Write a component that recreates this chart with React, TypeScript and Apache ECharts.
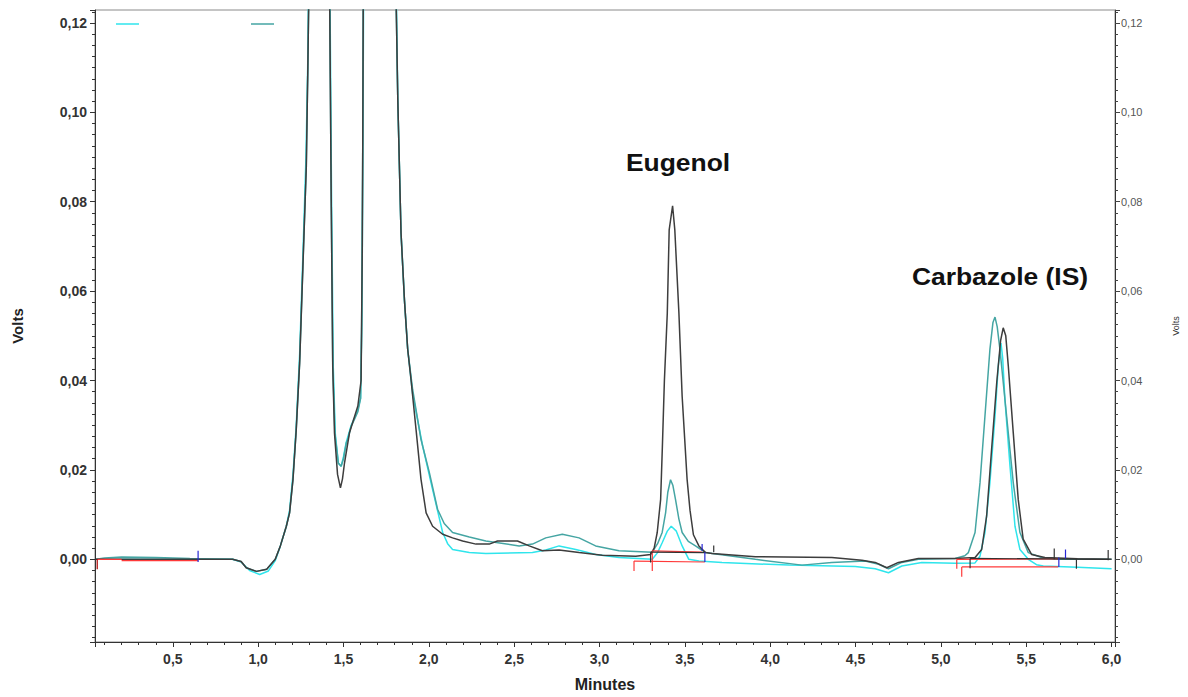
import React, { useEffect, useRef } from 'react';
import * as echarts from 'echarts';

// Axis extents
const X_MIN = 0.044;
const X_MAX = 6.02;
const Y_MIN = -0.0185;
const Y_MAX = 0.1229;

// Chromatogram traces: [minutes, volts]
const blackTrace: [number, number][] = [
  [0.05, 0.0], [0.2, 0.0], [0.5, 0.0], [0.85, 0.0], [0.9, -0.0005], [0.93, -0.0019],
  [0.99, -0.0027], [1.05, -0.0022], [1.1, 0.0], [1.13, 0.003], [1.165, 0.0074],
  [1.184, 0.0104], [1.204, 0.0179], [1.223, 0.029], [1.243, 0.044], [1.262, 0.0655],
  [1.282, 0.0879], [1.291, 0.11], [1.298, 0.13], [1.36, 0.2], [1.418, 0.13],
  [1.428, 0.0804], [1.437, 0.043], [1.447, 0.0283], [1.465, 0.019], [1.482, 0.016],
  [1.494, 0.018], [1.506, 0.0216], [1.535, 0.0283], [1.584, 0.0343], [1.603, 0.04],
  [1.61, 0.07], [1.613, 0.095], [1.616, 0.13], [1.71, 0.25], [1.806, 0.13],
  [1.818, 0.1028], [1.837, 0.073], [1.857, 0.058], [1.876, 0.047], [1.896, 0.04],
  [1.925, 0.029], [1.954, 0.0179], [1.984, 0.0104], [2.022, 0.0074], [2.081, 0.0056],
  [2.139, 0.0048], [2.198, 0.0041], [2.276, 0.0034], [2.354, 0.0034], [2.402, 0.0041],
  [2.519, 0.0041], [2.588, 0.003], [2.665, 0.0019], [2.763, 0.0021], [2.88, 0.0015],
  [3.016, 0.0009], [3.212, 0.0007], [3.3, 0.0011], [3.32, 0.0025], [3.338, 0.006],
  [3.358, 0.0134], [3.368, 0.025], [3.38, 0.04], [3.397, 0.0551], [3.408, 0.0737],
  [3.428, 0.0791], [3.441, 0.0737], [3.465, 0.0551], [3.484, 0.0365], [3.513, 0.0179],
  [3.53, 0.011], [3.55, 0.0055], [3.582, 0.003], [3.621, 0.0015], [3.66, 0.0013],
  [3.913, 0.0006], [4.361, 0.0004], [4.537, -0.0002], [4.615, -0.0007], [4.683, -0.0019],
  [4.751, -0.0007], [4.868, 0.0002], [5.083, 0.0002], [5.2, 0.0004], [5.239, 0.0022],
  [5.268, 0.0097], [5.297, 0.0246], [5.327, 0.0395], [5.35, 0.049], [5.365, 0.0518],
  [5.38, 0.05], [5.395, 0.0432], [5.424, 0.0283], [5.453, 0.0134], [5.482, 0.0045],
  [5.531, 0.0011], [5.609, 0.0004], [5.8, 0.0001], [6.0, 0.0],
];

const tealTrace: [number, number][] = [
  [0.05, 0.0], [0.1, 0.0003], [0.2, 0.0005], [0.4, 0.0004], [0.6, 0.0002], [0.85, 0.0],
  [0.9, -0.0005], [0.93, -0.0019], [0.99, -0.0027], [1.05, -0.0022], [1.1, 0.0],
  [1.13, 0.003], [1.165, 0.0074], [1.184, 0.0104], [1.204, 0.0179], [1.223, 0.029],
  [1.243, 0.044], [1.262, 0.0655], [1.282, 0.0879], [1.291, 0.11], [1.298, 0.13],
  [1.36, 0.2], [1.418, 0.13], [1.428, 0.0804], [1.437, 0.043], [1.45, 0.028],
  [1.47, 0.0215], [1.486, 0.0208], [1.5, 0.0225], [1.516, 0.026], [1.525, 0.0268],
  [1.545, 0.0298], [1.564, 0.0313], [1.584, 0.033], [1.6, 0.036], [1.606, 0.0507],
  [1.613, 0.095], [1.616, 0.13], [1.71, 0.25], [1.806, 0.13], [1.818, 0.1028],
  [1.837, 0.073], [1.857, 0.058], [1.876, 0.047], [1.905, 0.038], [1.954, 0.0268],
  [2.003, 0.0194], [2.051, 0.0112], [2.09, 0.008], [2.139, 0.006], [2.237, 0.005],
  [2.334, 0.0041], [2.529, 0.003], [2.607, 0.0034], [2.685, 0.0048], [2.782, 0.0056],
  [2.88, 0.0048], [2.977, 0.003], [3.114, 0.0019], [3.309, 0.0016], [3.34, 0.0035],
  [3.367, 0.006], [3.387, 0.0104], [3.4, 0.015], [3.416, 0.0178], [3.43, 0.0165],
  [3.445, 0.0134], [3.465, 0.009], [3.484, 0.006], [3.52, 0.004], [3.562, 0.003],
  [3.621, 0.0015], [3.66, 0.0013], [3.913, 0.0], [4.186, -0.0013], [4.361, -0.0007],
  [4.556, -0.0004], [4.635, -0.0011], [4.693, -0.0021], [4.771, -0.0007], [4.868, 0.0],
  [5.083, 0.0002], [5.14, 0.0008], [5.161, 0.0015], [5.18, 0.0037], [5.2, 0.006],
  [5.229, 0.0171], [5.258, 0.032], [5.287, 0.0469], [5.305, 0.053], [5.317, 0.0542],
  [5.33, 0.052], [5.346, 0.0469], [5.385, 0.032], [5.424, 0.0171], [5.463, 0.006],
  [5.512, 0.0015], [5.589, 0.0004], [5.7, 0.0], [6.0, 0.0],
];

const cyanTrace: [number, number][] = [
  [0.05, 0.0], [0.5, 0.0], [0.85, 0.0], [0.9, -0.0006], [0.95, -0.0025], [1.009, -0.0034],
  [1.06, -0.0026], [1.1, -0.0003], [1.13, 0.003], [1.165, 0.0074], [1.184, 0.011],
  [1.204, 0.019], [1.223, 0.03], [1.243, 0.046], [1.262, 0.068], [1.28, 0.09],
  [1.29, 0.11], [1.296, 0.13], [1.36, 0.2], [1.42, 0.13], [1.43, 0.0804],
  [1.44, 0.043], [1.452, 0.028], [1.47, 0.0215], [1.486, 0.0208], [1.5, 0.023],
  [1.516, 0.0262], [1.545, 0.03], [1.58, 0.033], [1.6, 0.036], [1.608, 0.055],
  [1.614, 0.095], [1.618, 0.13], [1.71, 0.25], [1.808, 0.13], [1.818, 0.1028],
  [1.837, 0.073], [1.857, 0.058], [1.876, 0.047], [1.905, 0.037], [1.935, 0.031],
  [1.964, 0.0253], [2.022, 0.0156], [2.081, 0.006], [2.11, 0.0035], [2.139, 0.0022],
  [2.237, 0.0015], [2.334, 0.0013], [2.607, 0.0015], [2.685, 0.0021], [2.763, 0.003],
  [2.861, 0.0022], [2.977, 0.0011], [3.114, 0.0004], [3.309, 0.0], [3.34, 0.0015],
  [3.367, 0.0037], [3.397, 0.0063], [3.42, 0.0074], [3.45, 0.0063], [3.484, 0.003],
  [3.523, 0.0], [3.582, -0.0004], [3.718, -0.0007], [4.108, -0.0013], [4.498, -0.0016],
  [4.615, -0.0021], [4.693, -0.003], [4.771, -0.0015], [4.888, -0.0007], [5.083, -0.0009],
  [5.2, -0.0008], [5.229, 0.0007], [5.258, 0.006], [5.287, 0.0171], [5.317, 0.032],
  [5.336, 0.0432], [5.352, 0.0484], [5.362, 0.045], [5.375, 0.0358], [5.405, 0.0208],
  [5.434, 0.0074], [5.463, 0.0022], [5.512, 0.0], [5.56, -0.0012], [5.6, -0.0015],
  [5.8, -0.0018], [6.0, -0.0021],
];

// Integration baselines and peak-boundary ticks: each entry is a segment [[x1,y1],[x2,y2]]
const redBaselines: [number, number][][] = [
  [[0.057, 0.0], [0.2, 0.0]],
  [[0.2, -0.0003], [0.648, -0.0003]],
  [[3.309, 0.0019], [3.601, 0.0016]],
  [[3.202, -0.0004], [3.617, -0.0006]],
  [[5.093, 0.0], [5.687, 0.0001]],
  [[5.122, -0.0017], [5.687, -0.0017]],
  [[3.309, 0.0019], [3.309, -0.0026]],
  [[3.202, -0.0004], [3.202, -0.0026]],
  [[5.093, 0.0], [5.093, -0.0021]],
  [[5.122, -0.0017], [5.122, -0.0039]],
];
const darkRedTicks: [number, number][][] = [
  [[0.057, 0.0], [0.057, -0.0022]],
];
const blueTicks: [number, number][][] = [
  [[0.648, 0.0019], [0.648, -0.0006]],
  [[3.617, 0.0016], [3.617, -0.0006]],
  [[3.601, 0.0034], [3.601, 0.0019]],
  [[5.691, 0.0004], [5.691, -0.0017]],
  [[5.73, 0.0022], [5.73, 0.0002]],
];
const blackTicks: [number, number][][] = [
  [[3.299, 0.0016], [3.62, 0.0015]],
  [[3.299, 0.0016], [3.299, -0.0007]],
  [[3.669, 0.0031], [3.669, 0.0016]],
  [[5.171, 0.0002], [5.98, 0.0]],
  [[5.171, 0.0002], [5.171, -0.002]],
  [[5.664, 0.0024], [5.664, 0.0]],
  [[5.794, 0.0], [5.794, -0.0021]],
  [[5.98, 0.0021], [5.98, -0.0002]],
];

const peakLabels = [
  { text: 'Eugenol', x: 678, y: 163 },
  { text: 'Carbazole (IS)', x: 1000, y: 277 },
];

const FONT = 'Arial, "Liberation Sans", Helvetica, sans-serif';
const BLACK = '#3d3d3d';
const TEAL = '#45a5a3';
const CYAN = '#2fe5ec';

const fmtY = (v: number) => {
  const k = v / 0.02;
  if (Math.abs(k - Math.round(k)) > 1e-6) return '';
  return (Math.round(k) * 0.02).toFixed(2).replace('.', ',').replace('-0,00', '0,00');
};
const fmtX = (v: number) => {
  const k = v / 0.5;
  if (Math.abs(k - Math.round(k)) > 1e-6 || Math.round(k) === 0) return '';
  return (Math.round(k) * 0.5).toFixed(1).replace('.', ',');
};

const trace = (data: [number, number][], color: string, z: number) => ({
  type: 'line',
  data,
  symbol: 'none',
  showSymbol: false,
  silent: true,
  clip: true,
  z,
  lineStyle: { color, width: 1.5 },
  itemStyle: { color },
});

const segs = (list: [number, number][][], color: string, z: number) =>
  list.map((s) => ({
    type: 'line',
    data: s,
    symbol: 'none',
    showSymbol: false,
    silent: true,
    z,
    lineStyle: { color, width: 1.2 },
    itemStyle: { color },
  }));

export default function App() {
  const ref = useRef<HTMLDivElement>(null);
  useEffect(() => {
    const chart = echarts.init(ref.current!, undefined, { renderer: 'svg' });
    const option: any = {
      animation: false,
      backgroundColor: '#ffffff',
      textStyle: { fontFamily: FONT },
      grid: {
        left: 95,
        right: 71,
        top: 10,
        bottom: 54,
        show: true,
        borderColor: '#8a8a8a',
        borderWidth: 1,
      },
      xAxis: {
        type: 'value',
        min: X_MIN,
        max: X_MAX,
        splitNumber: 12,
        minInterval: 0.5,
        maxInterval: 0.5,
        name: 'Minutes',
        nameLocation: 'middle',
        nameGap: 34,
        nameTextStyle: { fontSize: 16, fontWeight: 'bold', color: '#222', fontFamily: FONT },
        axisLine: { show: true, onZero: false, lineStyle: { color: '#333', width: 1 } },
        axisTick: { show: true, inside: false, length: 5, lineStyle: { color: '#333' } },
        minorTick: { show: true, splitNumber: 5, length: 3, lineStyle: { color: '#333' } },
        splitLine: { show: false },
        axisLabel: {
          formatter: fmtX,
          showMinLabel: false,
          showMaxLabel: false,
          margin: 10,
          fontSize: 14,
          fontWeight: 'bold',
          color: '#333',
          fontFamily: FONT,
        },
      },
      yAxis: [
        {
          type: 'value',
          position: 'left',
          min: Y_MIN,
          max: Y_MAX,
          splitNumber: 7,
          minInterval: 0.02,
          maxInterval: 0.02,
          name: 'Volts',
          nameLocation: 'middle',
          nameRotate: 90,
          nameGap: 70,
          nameTextStyle: { fontSize: 15, fontWeight: 'bold', color: '#222', fontFamily: FONT },
          axisLine: { show: true, onZero: false, lineStyle: { color: '#333', width: 1 } },
          axisTick: { show: true, inside: false, length: 5, lineStyle: { color: '#333' } },
          minorTick: { show: true, splitNumber: 8, length: 3, lineStyle: { color: '#333' } },
          splitLine: { show: false },
          axisLabel: {
            formatter: fmtY,
            showMinLabel: false,
            showMaxLabel: false,
            margin: 8,
            fontSize: 14,
            fontWeight: 'bold',
            color: '#333',
            fontFamily: FONT,
          },
        },
        {
          type: 'value',
          position: 'right',
          min: Y_MIN,
          max: Y_MAX,
          splitNumber: 7,
          minInterval: 0.02,
          maxInterval: 0.02,
          name: 'Volts',
          nameLocation: 'middle',
          nameRotate: 90,
          nameGap: 56,
          nameTextStyle: { fontSize: 9, color: '#333', fontFamily: FONT },
          axisLine: { show: true, onZero: false, lineStyle: { color: '#333', width: 1 } },
          axisTick: { show: true, inside: false, length: 5, lineStyle: { color: '#444' } },
          minorTick: { show: true, splitNumber: 8, length: 3, lineStyle: { color: '#444' } },
          splitLine: { show: false },
          axisLabel: {
            formatter: fmtY,
            showMinLabel: false,
            showMaxLabel: false,
            margin: 6,
            fontSize: 11,
            color: '#555',
            fontFamily: FONT,
          },
        },
      ],
      series: [
        trace(cyanTrace, CYAN, 2),
        trace(tealTrace, TEAL, 3),
        trace(blackTrace, BLACK, 4),
        ...segs(redBaselines, '#ff3a3a', 5),
        ...segs(darkRedTicks, '#b00000', 6),
        ...segs(blackTicks, '#333333', 6),
        ...segs(blueTicks, '#2727d6', 7),
      ],
      graphic: [
        { type: 'line', shape: { x1: 116, y1: 24, x2: 139, y2: 24 }, style: { stroke: CYAN, lineWidth: 1.5 } },
        { type: 'line', shape: { x1: 251, y1: 24, x2: 274, y2: 24 }, style: { stroke: TEAL, lineWidth: 1.5 } },
        ...peakLabels.map((p) => ({
          type: 'text',
          x: p.x,
          y: p.y,
          scaleX: 1.15,
          originX: 0,
          originY: 0,
          style: {
            text: p.text,
            fontSize: 23,
            fontWeight: 'bold',
            fontFamily: FONT,
            fill: '#111',
            align: 'center',
            verticalAlign: 'middle',
          },
        })),
      ],
    };
    chart.setOption(option);
    return () => chart.dispose();
  }, []);
  return (
    <div
      ref={ref}
      style={{ position: 'fixed', left: 0, top: 0, width: 1188, height: 697, background: '#fff' }}
    />
  );
}
